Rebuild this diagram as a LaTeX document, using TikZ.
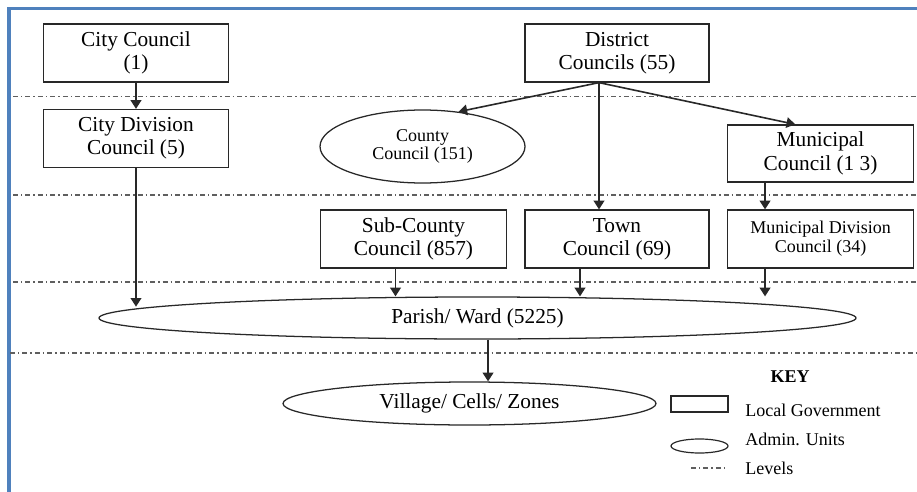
\documentclass[tikz,border=0pt]{standalone}
\usepackage{fontspec}
\setmainfont{Liberation Serif}
\usetikzlibrary{arrows.meta,shapes.geometric}
\definecolor{frameblue}{RGB}{79,129,189}
\definecolor{inkgray}{RGB}{40,40,40}
\definecolor{levelgray}{RGB}{95,95,95}
\begin{document}
\begin{tikzpicture}[x=0.75pt, y=-0.75pt,
	lgov/.style={draw=inkgray, line width=0.95pt, rectangle, inner sep=0pt, align=center, minimum width=139pt, minimum height=43.5pt, font=\fontsize{16}{17.5}\selectfont},
	admin/.style={draw=inkgray, line width=0.95pt, ellipse, inner sep=0pt, align=center, font=\fontsize{16}{17.5}\selectfont},
	level/.style={levelgray, line width=0.9pt, dash pattern=on 3.75pt off 2.25pt on 1.1pt off 2.25pt},
	link/.style={-{Triangle[length=6.5pt,width=8pt]}, line width=1.2pt, inkgray},
	keytext/.style={anchor=west, inner sep=0pt, font=\fontsize{13.5}{14}\selectfont}]
	\useasboundingbox (0,0) rectangle (917,492);
	\draw[frameblue, line width=2.3pt] (9,492) -- (9,8.5) -- (917,8.5);
	\draw[level] (13,96.5) -- (917,96.5);
	\draw[level] (13,195) -- (917,195);
	\draw[level] (13,282) -- (917,282);
	\draw[level] (10,353) -- (917,353);
	\node[lgov] (city) at (136,53) {City Council\\(1)};
	\node[lgov] (citydiv) at (136,138.5) {City Division\\Council (5)};
	\node[lgov, minimum width=138pt] (district) at (617,53) {District\\Councils (55)};
	\node[admin, minimum width=153.75pt, minimum height=54.75pt, font=\fontsize{13.5}{13.5}\selectfont] (county) at (422.5,146.5) {County\\Council (151)};
	\node[lgov, minimum height=42.75pt] (municipal) at (820.5,153.5) {Municipal\\Council (1 3)};
	\node[lgov, minimum width=140pt] (subcounty) at (413.5,239) {Sub-County\\Council (857)};
	\node[lgov, minimum width=138pt] (town) at (617,239) {Town\\Council (69)};
	\node[lgov, font=\fontsize{13.5}{14}\selectfont] (mundiv) at (820.5,239) {Municipal Division\\Council (34)};
	\node[admin, minimum width=567.75pt, minimum height=31.5pt] (parish) at (477.5,318) {Parish/ Ward (5225)};
	\node[admin, minimum width=279.75pt, minimum height=32.25pt] (village) at (469.5,403.5) {Village/ Cells/ Zones};
	\draw[link] (city) -- (citydiv);
	\draw[link] (citydiv.south) -- (citydiv.south |- parish.178.5);
	\draw[link] ([xshift=-13.5pt]district.south) -- (county.44);
	\draw[link] ([xshift=-13.5pt]district.south) -- ([xshift=-13.5pt]district.south |- town.north);
	\draw[link] ([xshift=-13.5pt]district.south) -- ([xshift=-19pt]municipal.north);
	\draw[link] ([xshift=-41.6pt]municipal.south) -- ([xshift=-41.6pt]mundiv.north);
	\draw[link] ([xshift=-13.5pt]subcounty.south) -- ([xshift=-13.5pt]subcounty.south |- parish.north);
	\draw[link] ([xshift=-27.75pt]town.south) -- ([xshift=-27.75pt]town.south |- parish.north);
	\draw[link] ([xshift=-41.6pt]mundiv.south) -- ([xshift=-41.6pt]mundiv.south |- parish.north);
	\draw[link] ([xshift=7.9pt]parish.south) -- ([xshift=7.9pt]parish.south |- village.north);
	\node[font=\fontsize{13.5}{14}\selectfont\bfseries] (keytitle) at (790,377) {KEY};
	\node[draw=inkgray, line width=0.9pt, rectangle, minimum width=42.75pt, minimum height=12pt, inner sep=0pt] (keybox) at (699.5,404) {};
	\node[keytext] (keylg) at (745,410) {Local Government};
	\node[draw=inkgray, line width=0.9pt, ellipse, minimum width=42.75pt, minimum height=10.5pt, inner sep=0pt] (keyell) at (699.5,446) {};
	\node[keytext] (keyau) at (745,439) {Admin. Units};
	\draw[level] (691,468) -- (728,468);
	\node[keytext] (keylev) at (745,468) {Levels};
\end{tikzpicture}
\end{document}
